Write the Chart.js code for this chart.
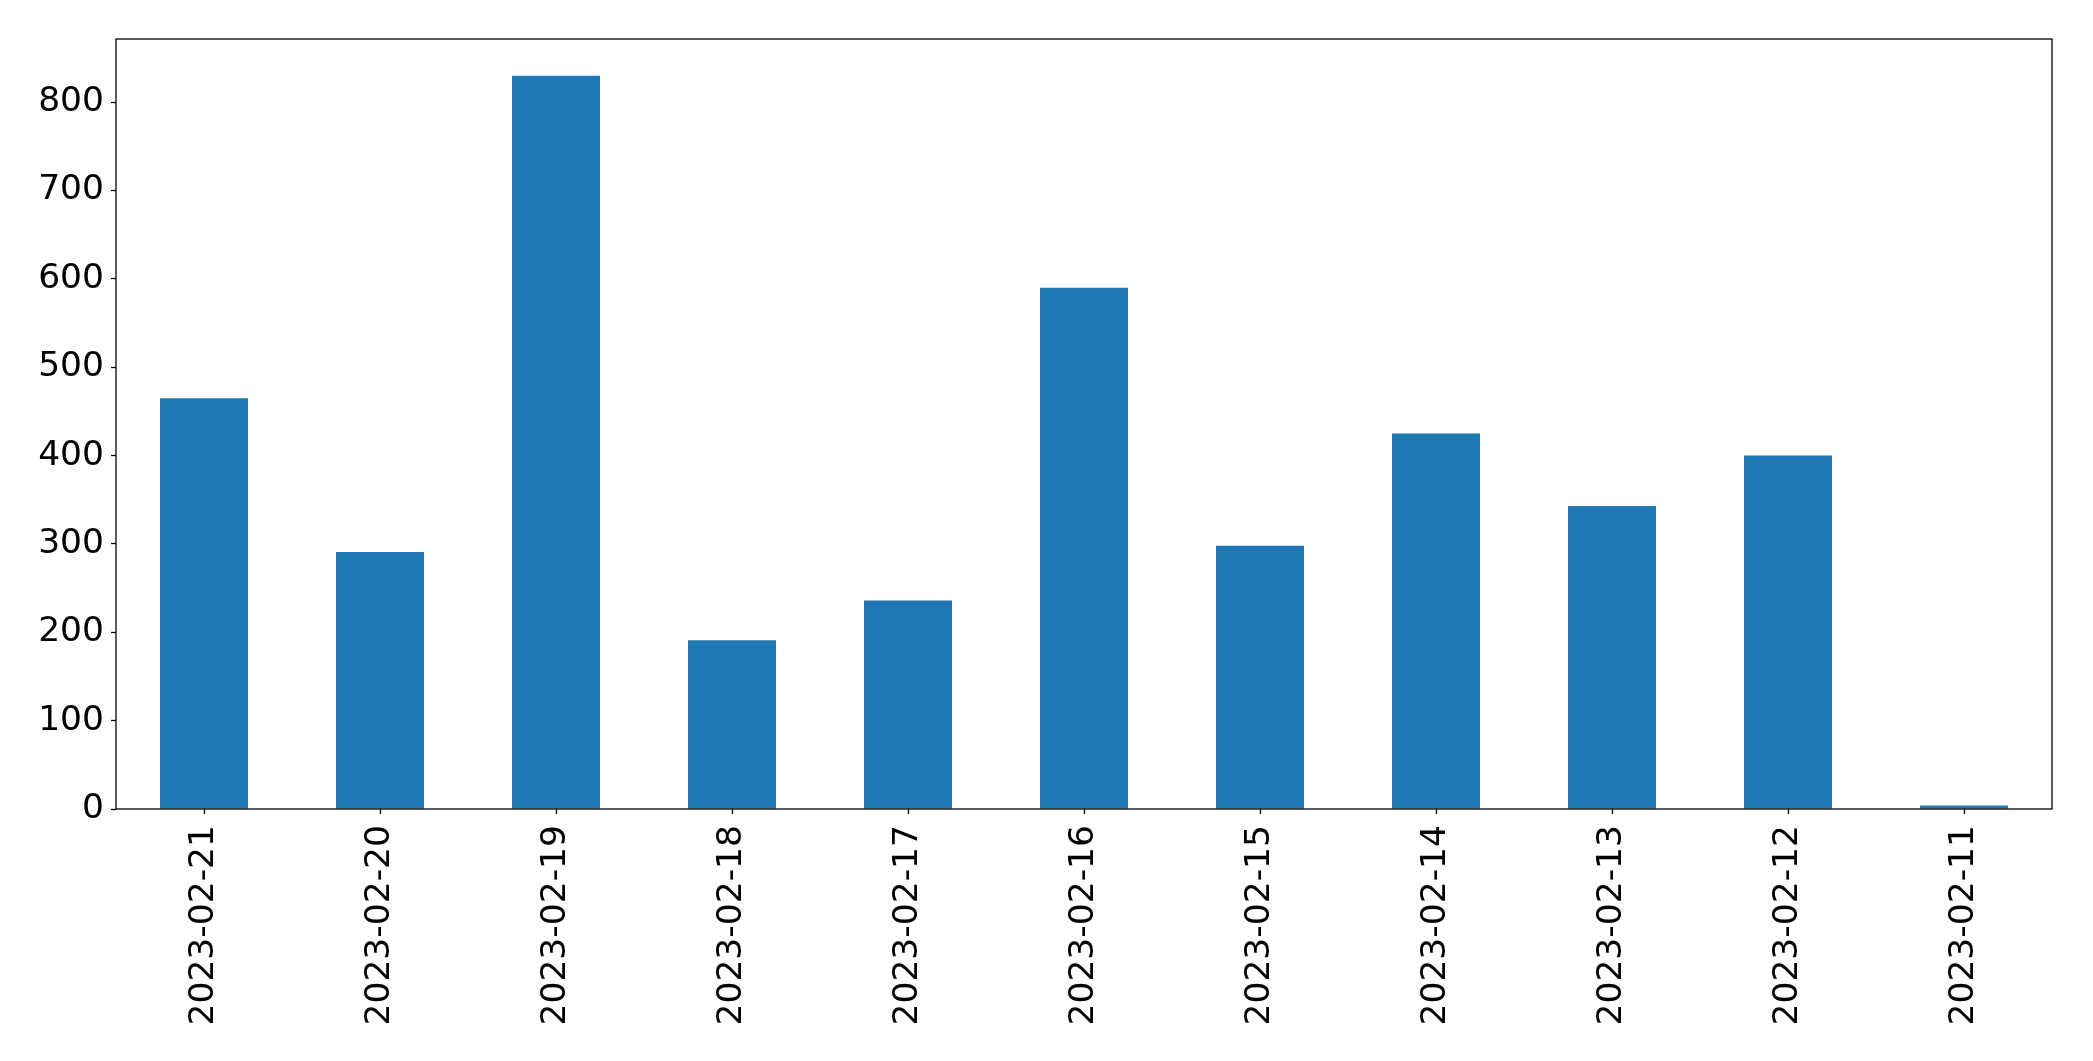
<!DOCTYPE html>
<html>
<head>
<meta charset="utf-8">
<script src="https://cdn.jsdelivr.net/npm/chart.js@4/dist/chart.umd.min.js"></script>
<style>
  html, body { margin: 0; padding: 0; background: #fff; }
  #wrap { width: 2093px; height: 1061px; }
</style>
</head>
<body>
<div id="wrap"><canvas id="chart" width="2093" height="1061"></canvas></div>
<script>
const dates = ['2023-02-21', '2023-02-20', '2023-02-19', '2023-02-18', '2023-02-17', '2023-02-16',
               '2023-02-15', '2023-02-14', '2023-02-13', '2023-02-12', '2023-02-11'];
const counts = [465, 291, 830, 191, 236, 590, 298, 425, 343, 400, 4];
const yTicks = [0, 100, 200, 300, 400, 500, 600, 700, 800];

// matplotlib style frame round the plot area
const frame = {
  id: 'frame',
  afterDraw(chart) {
    const { ctx, chartArea: a } = chart;
    ctx.save();
    ctx.strokeStyle = '#000';
    ctx.lineWidth = 1.3;
    ctx.strokeRect(a.left, a.top, a.right - a.left, a.bottom - a.top);
    ctx.restore();
  }
};

const font = { family: 'DejaVu Sans', size: 34.5 };

new Chart(document.getElementById('chart'), {
  type: 'bar',
  data: {
    labels: dates,
    datasets: [{
      data: counts,
      backgroundColor: '#1f77b4',
      barPercentage: 0.5,
      categoryPercentage: 1.0
    }]
  },
  options: {
    responsive: false,
    animation: false,
    layout: { padding: { top: 39, right: 41, left: 0, bottom: 0 } },
    plugins: { legend: { display: false }, tooltip: { enabled: false } },
    scales: {
      x: {
        offset: true,
        grid: { display: true, offset: false, drawOnChartArea: false, tickLength: 5, tickColor: '#000', tickWidth: 1.3 },
        border: { display: false },
        ticks: { color: '#000', font, minRotation: 90, maxRotation: 90, autoSkip: false, padding: 11 },
        afterFit(s) { s.height = 252; }
      },
      y: {
        min: 0,
        max: 871.5,
        afterBuildTicks(s) { s.ticks = yTicks.map(v => ({ value: v })); },
        grid: { display: true, drawOnChartArea: false, tickLength: 5, tickColor: '#000', tickWidth: 1.3 },
        border: { display: false },
        ticks: { color: '#000', font, padding: 7 },
        afterFit(s) { s.width = 116; }
      }
    }
  },
  plugins: [frame]
});
</script>
</body>
</html>
